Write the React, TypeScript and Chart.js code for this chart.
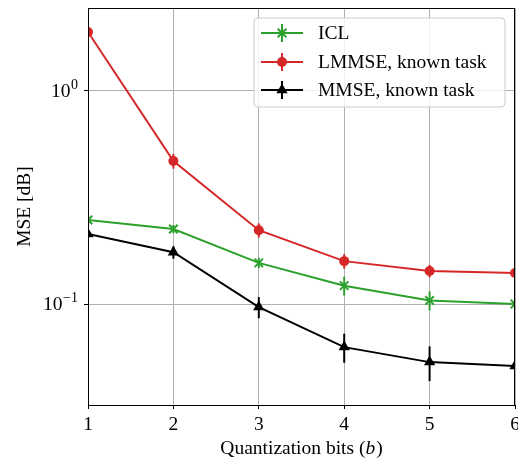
import React, { useEffect, useRef } from "react";
import { Chart, registerables } from "chart.js";

Chart.register(...registerables);

const bits = [1, 2, 3, 4, 5, 6];
const iclMse = [0.248, 0.225, 0.156, 0.122, 0.104, 0.1];
const iclErr = [0.011, 0.01, 0.0087, 0.0124, 0.0106, 0.0067];
const lmmseMse = [1.89, 0.469, 0.222, 0.159, 0.143, 0.14];
const lmmseErr = [0.08, 0.037, 0.017, 0.0125, 0.0096, 0.0094];
const mmseMse = [0.213, 0.175, 0.0968, 0.0628, 0.0534, 0.0512];
const mmseErr = [0.0094, 0.0117, 0.011, 0.0098, 0.0099, 0.0095];
const seriesNames = ["ICL", "LMMSE, known task", "MMSE, known task"];
const yTickValues = [0.1, 1];
const yTickExponents = ["\u22121", "0"];
const xTitle = "Quantization bits (";
const xTitleVar = "b";
const yTitle = "MSE [dB]";

const FONT = "'Liberation Serif', 'DejaVu Serif', serif";
const FS = 19.5;
const GREEN = "#2ca02c";
const RED = "#d62728";
const BLACK = "#000000";
const colors = [GREEN, RED, BLACK];
const styles = ["crossRot", "circle", "triangle"];
const errs = [iclErr, lmmseErr, mmseErr];

function drawMarker(ctx: CanvasRenderingContext2D, style: string, x: number, y: number, color: string) {
  ctx.save();
  ctx.strokeStyle = color;
  ctx.fillStyle = color;
  ctx.lineWidth = 2;
  ctx.beginPath();
  if (style === "circle") {
    ctx.arc(x, y, 5, 0, Math.PI * 2);
    ctx.fill();
  } else if (style === "triangle") {
    const r = 6.5;
    for (let i = 0; i < 3; i++) {
      const a = (i * 2 * Math.PI) / 3;
      const px = x + Math.sin(a) * r;
      const py = y - Math.cos(a) * r;
      if (i === 0) ctx.moveTo(px, py);
      else ctx.lineTo(px, py);
    }
    ctx.closePath();
    ctx.fill();
  } else {
    const d = 4.3;
    ctx.moveTo(x - d, y - d);
    ctx.lineTo(x + d, y + d);
    ctx.moveTo(x + d, y - d);
    ctx.lineTo(x - d, y + d);
    ctx.stroke();
  }
  ctx.restore();
}

const customPlugin = {
  id: "custom",
  beforeDatasetsDraw(chart: any) {
    const ctx = chart.ctx as CanvasRenderingContext2D;
    const a = chart.chartArea;
    const ys = chart.scales.y;
    const xs = chart.scales.x;
    ctx.save();
    ctx.beginPath();
    ctx.rect(a.left, a.top, a.right - a.left, a.bottom - a.top);
    ctx.clip();
    chart.data.datasets.forEach((ds: any, i: number) => {
      ctx.strokeStyle = colors[i];
      ctx.lineWidth = 2;
      ds.data.forEach((p: any, j: number) => {
        const e = errs[i][j];
        const px = xs.getPixelForValue(p.x);
        ctx.beginPath();
        ctx.moveTo(px, ys.getPixelForValue(p.y - e));
        ctx.lineTo(px, ys.getPixelForValue(p.y + e));
        ctx.stroke();
      });
    });
    ctx.restore();
  },
  afterDraw(chart: any) {
    const ctx = chart.ctx as CanvasRenderingContext2D;
    const a = chart.chartArea;
    const ys = chart.scales.y;
    ctx.save();
    // frame
    ctx.strokeStyle = "#000";
    ctx.lineWidth = 1;
    ctx.strokeRect(Math.round(a.left) + 0.5, Math.round(a.top) + 0.5, Math.round(a.right - a.left) - 1, Math.round(a.bottom - a.top));

    // y tick labels
    ctx.fillStyle = "#000";
    ctx.textBaseline = "middle";
    yTickValues.forEach((v, i) => {
      const py = ys.getPixelForValue(v);
      ctx.font = `14px ${FONT}`;
      const ew = ctx.measureText(yTickExponents[i]).width;
      const right = a.left - 10;
      ctx.textAlign = "left";
      ctx.fillText(yTickExponents[i], right - ew, py - 6);
      ctx.font = `${FS}px ${FONT}`;
      ctx.textAlign = "right";
      ctx.fillText("10", right - ew - 0.5, py + 1);
    });

    // x title
    ctx.font = `${FS}px ${FONT}`;
    const cx = (a.left + a.right) / 2;
    const w1 = ctx.measureText(xTitle).width;
    ctx.font = `italic ${FS}px ${FONT}`;
    const w2 = ctx.measureText(xTitleVar).width;
    ctx.font = `${FS}px ${FONT}`;
    const w3 = ctx.measureText(")").width;
    const total = w1 + w2 + w3 + 1;
    const sx = cx - total / 2;
    ctx.textAlign = "left";
    ctx.textBaseline = "alphabetic";
    ctx.fillText(xTitle, sx, 454);
    ctx.font = `italic ${FS}px ${FONT}`;
    ctx.fillText(xTitleVar, sx + w1, 454);
    ctx.font = `${FS}px ${FONT}`;
    ctx.fillText(")", sx + w1 + w2 + 1, 454);

    // y title
    ctx.save();
    ctx.translate(25, (a.top + a.bottom) / 2);
    ctx.rotate(-Math.PI / 2);
    ctx.textAlign = "center";
    ctx.textBaseline = "middle";
    ctx.fillText(yTitle, 0, 0);
    ctx.restore();

    // legend
    const lx = 254, ly = 18, lw = 251, lh = 89;
    ctx.beginPath();
    const r = 4;
    ctx.moveTo(lx + r, ly);
    ctx.arcTo(lx + lw, ly, lx + lw, ly + lh, r);
    ctx.arcTo(lx + lw, ly + lh, lx, ly + lh, r);
    ctx.arcTo(lx, ly + lh, lx, ly, r);
    ctx.arcTo(lx, ly, lx + lw, ly, r);
    ctx.closePath();
    ctx.fillStyle = "rgba(255,255,255,0.8)";
    ctx.fill();
    ctx.strokeStyle = "#cccccc";
    ctx.lineWidth = 1;
    ctx.stroke();
    const rows = [33, 62, 90];
    seriesNames.forEach((name, i) => {
      const y = rows[i];
      ctx.strokeStyle = colors[i];
      ctx.lineWidth = 2;
      ctx.beginPath();
      ctx.moveTo(261, y);
      ctx.lineTo(303, y);
      ctx.moveTo(282, y - 9);
      ctx.lineTo(282, y + 9);
      ctx.stroke();
      drawMarker(ctx, styles[i], 282, y, colors[i]);
      ctx.fillStyle = "#000";
      ctx.font = `${FS}px ${FONT}`;
      ctx.textAlign = "left";
      ctx.textBaseline = "middle";
      ctx.fillText(name, 318, y + 1);
    });
    ctx.restore();
  },
};

export default function App() {
  const ref = useRef<HTMLCanvasElement>(null);
  useEffect(() => {
    document.body.style.margin = "0";
    const mk = (vals: number[]) => bits.map((b, i) => ({ x: b, y: vals[i] }));
    const chart = new Chart(ref.current!, {
      type: "line",
      data: {
        datasets: [
          { label: seriesNames[0], data: mk(iclMse), borderColor: GREEN, backgroundColor: GREEN, pointStyle: "crossRot", pointRadius: 6, pointBorderWidth: 2, borderWidth: 2, clip: 0 as any },
          { label: seriesNames[1], data: mk(lmmseMse), borderColor: RED, backgroundColor: RED, pointStyle: "circle", pointRadius: 5, pointBorderWidth: 0, borderWidth: 2, clip: 0 as any },
          { label: seriesNames[2], data: mk(mmseMse), borderColor: BLACK, backgroundColor: BLACK, pointStyle: "triangle", pointRadius: 6.5, pointBorderWidth: 0, borderWidth: 2, clip: 0 as any },
        ],
      },
      options: {
        responsive: false,
        animation: false,
        layout: { autoPadding: false, padding: { top: 8, right: 3, left: 0, bottom: 0 } },
        plugins: { legend: { display: false }, tooltip: { enabled: false } },
        scales: {
          x: {
            type: "linear",
            min: 1,
            max: 6,
            ticks: { stepSize: 1, color: "#000", padding: 4, font: { family: FONT, size: FS } },
            grid: { color: "#b0b0b0", lineWidth: 1, tickColor: "#000", tickLength: 4 },
            border: { display: false },
            afterFit: (s: any) => { s.height = 55; s.paddingLeft = 0; s.paddingRight = 0; },
          },
          y: {
            type: "logarithmic",
            min: 0.0336,
            max: 2.45,
            ticks: { display: false },
            afterBuildTicks: (s: any) => { s.ticks = yTickValues.map((v) => ({ value: v })); },
            grid: { color: "#b0b0b0", lineWidth: 1, tickColor: "#000", tickLength: 4 },
            border: { display: false },
            afterFit: (s: any) => { s.width = 88; s.paddingTop = 0; s.paddingBottom = 0; },
          },
        },
      },
      plugins: [customPlugin],
    });
    return () => chart.destroy();
  }, []);
  return <canvas ref={ref} width={518} height={460} style={{ display: "block" }} />;
}
